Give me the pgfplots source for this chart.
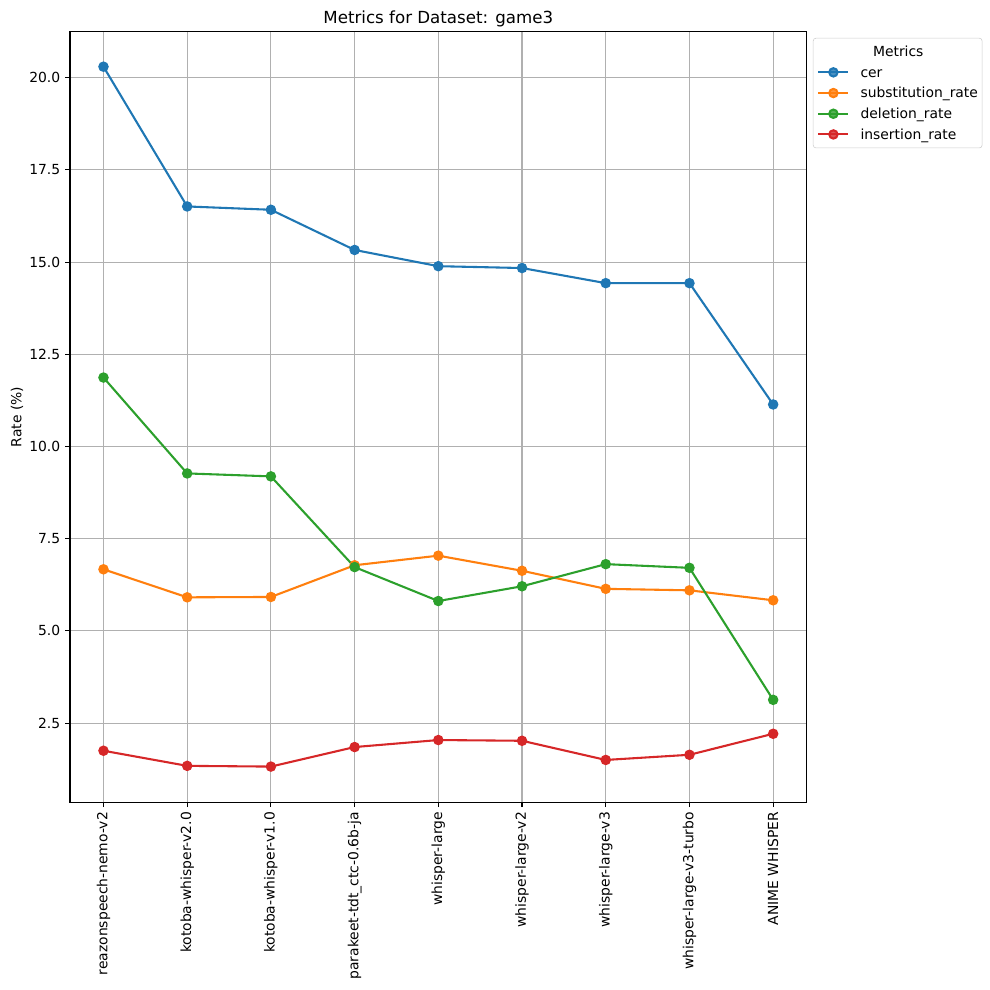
\documentclass[border=0pt]{standalone}
\usepackage{fontspec}
\setmainfont{DejaVu Sans}
\usepackage{pgfplots}
\pgfplotsset{compat=1.18}
\definecolor{c1}{HTML}{1F77B4}
\definecolor{c2}{HTML}{FF7F0E}
\definecolor{c3}{HTML}{2CA02C}
\definecolor{c4}{HTML}{D62728}
\definecolor{gridc}{HTML}{B0B0B0}
\definecolor{legc}{HTML}{CCCCCC}
\begin{document}
\begin{tikzpicture}
\path[use as bounding box] (-50.4pt,-134.4pt) rectangle (662.4pt,577.7pt);
\begin{axis}[
  scale only axis,
  width=530.4pt, height=554.9pt,
  at={(0,0)}, anchor=south west,
  xmin=-0.4, xmax=8.4,
  ymin=0.35, ymax=21.25,
  xtick={0,1,2,3,4,5,6,7,8},
  xticklabels={reazonspeech-nemo-v2,kotoba-whisper-v2.0,kotoba-whisper-v1.0,parakeet-tdt\_ctc-0.6b-ja,whisper-large,whisper-large-v2,whisper-large-v3,whisper-large-v3-turbo,ANIME WHISPER},
  ytick={2.5,5,7.5,10,12.5,15,17.5,20},
  xtick pos=bottom, ytick pos=left,
  /pgf/number format/assume math mode=true,
  yticklabel style={/pgf/number format/fixed, /pgf/number format/fixed zerofill, /pgf/number format/precision=1, font=\fontsize{10}{12}\selectfont},
  xticklabel style={rotate=90, anchor=east, font=\fontsize{10}{12}\selectfont},
  tick align=outside,
  major tick length=3.5pt,
  tick style={line width=0.8pt, black},
  axis line style={line width=0.8pt, black},
  xmajorgrids, ymajorgrids,
  grid style={line width=0.8pt, gridc},
  title={Metrics for Dataset: game3},
  every axis title/.style={at={(0.5,1)}, anchor=base, yshift=6pt, inner sep=0pt, font=\fontsize{12}{14}\selectfont},
  ylabel={Rate (\%)},
  ylabel style={at={(axis description cs:-0.072,0.5)}, anchor=center, rotate=0, font=\fontsize{10}{12}\selectfont},
  legend cell align=left,
  legend image code/.code={\draw[mark repeat=2,mark phase=2,#1] plot coordinates {(0pt,0pt) (10.8pt,0pt) (21.6pt,0pt)};},
  legend style={at={(1,1)}, anchor=north west, xshift=4.5pt, yshift=-4.5pt,
    draw=legc, rounded corners=2pt, fill=white, fill opacity=0.8, text opacity=1,
    inner xsep=3pt, inner ysep=4.7pt, column sep=8pt, row sep=4.9pt,
    font=\fontsize{10}{12}\selectfont,
    nodes={inner sep=0pt, text height=8.5pt, text depth=1.5pt}},
]
\addlegendimage{empty legend}
\addlegendentry{\hspace{9pt}Metrics}
\addplot[c1, line width=1.5pt, mark=*, mark size=3pt, mark options={fill=c1, draw=c1}] coordinates {
(0,20.30) (1,16.51) (2,16.42) (3,15.33) (4,14.89) (5,14.84) (6,14.43) (7,14.43) (8,11.14)};
\addlegendentry{cer}
\addplot[c2, line width=1.5pt, mark=*, mark size=3pt, mark options={fill=c2, draw=c2}] coordinates {
(0,6.67) (1,5.91) (2,5.92) (3,6.78) (4,7.04) (5,6.63) (6,6.14) (7,6.10) (8,5.83)};
\addlegendentry{substitution\_rate}
\addplot[c3, line width=1.5pt, mark=*, mark size=3pt, mark options={fill=c3, draw=c3}] coordinates {
(0,11.87) (1,9.27) (2,9.19) (3,6.73) (4,5.81) (5,6.21) (6,6.81) (7,6.71) (8,3.13)};
\addlegendentry{deletion\_rate}
\addplot[c4, line width=1.5pt, mark=*, mark size=3pt, mark options={fill=c4, draw=c4}] coordinates {
(0,1.75) (1,1.34) (2,1.32) (3,1.85) (4,2.04) (5,2.02) (6,1.50) (7,1.64) (8,2.21)};
\addlegendentry{insertion\_rate}
\end{axis}
\end{tikzpicture}
\end{document}
